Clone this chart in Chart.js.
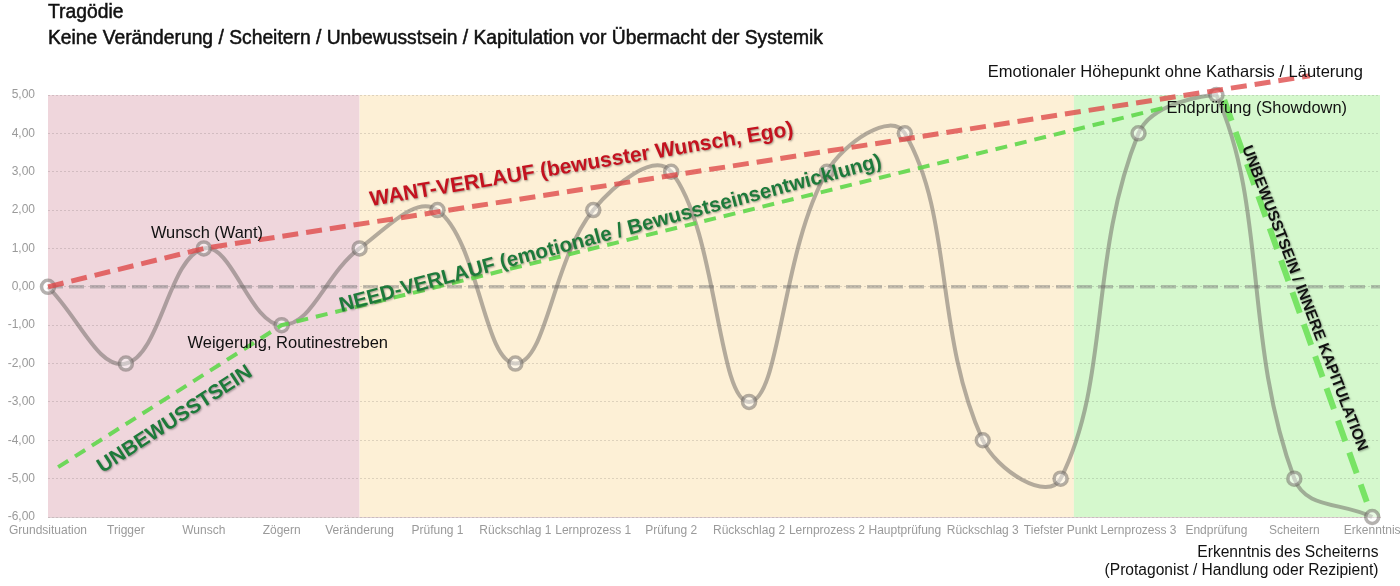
<!DOCTYPE html>
<html lang="de">
<head>
<meta charset="UTF-8">
<title>Tragödie</title>
<script src="https://cdn.jsdelivr.net/npm/chart.js"></script>
<style>
  html, body { margin: 0; padding: 0; background: #fff; }
  #wrap { width: 1400px; height: 586px; }
</style>
</head>
<body>
<div id="wrap"><canvas id="chart"></canvas></div>
<script>
// Stationen der Handlung (x-Achse)
const stationen = ['Grundsituation', 'Trigger', 'Wunsch', 'Zögern', 'Veränderung', 'Prüfung 1',
  'Rückschlag 1', 'Lernprozess 1', 'Prüfung 2', 'Rückschlag 2', 'Lernprozess 2', 'Hauptprüfung',
  'Rückschlag 3', 'Tiefster Punkt', 'Lernprozess 3', 'Endprüfung', 'Scheitern', 'Erkenntnis'];
// emotionaler Verlauf
const verlauf = [0, -2, 1, -1, 1, 2, -2, 2, 3, -3, 3, 4, -4, -5, 4, 5, -5, -6];

// Trendlinien (x = Position auf der Stationen-Achse)
const wantX = [0, 2, 16.2];
const wantY = [0, 1, 5.5];
const needX = [0.13, 3, 14.35];
const needY = [-4.7, -1, 4.68];
const kapitulationX = [15.1, 16.93];
const kapitulationY = [4.87, -5.6];
const nullX = [0, 17.1];
const nullY = [0, 0];

// Phasen (Akt-Grenzen)
const phasenGrenzen = [0, 4, 13.17, 17.1];
const phasenFarben = ['#efd6dc', '#fdf0d6', '#d5f8cd'];

const yMin = -6, yMax = 5;

const punkte = (xs, ys) => xs.map((x, i) => ({ x: x, y: ys[i] }));
const fmt = v => v.toFixed(2).replace('.', ',');

Chart.defaults.font.family = '"Liberation Sans", Arial, sans-serif';

function schreibe(ctx, text, px, py, o) {
  ctx.save();
  ctx.translate(px, py);
  if (o.rot) ctx.rotate(o.rot * Math.PI / 180);
  ctx.font = (o.bold ? 'bold ' : '') + o.size + 'px "Liberation Sans", Arial, sans-serif';
  ctx.fillStyle = o.color || '#111';
  ctx.textAlign = o.align || 'left';
  ctx.textBaseline = o.base || 'alphabetic';
  if (o.shadow) {
    ctx.shadowColor = 'rgba(0,0,0,0.35)';
    ctx.shadowBlur = 2;
    ctx.shadowOffsetX = 1;
    ctx.shadowOffsetY = 1;
  }
  ctx.fillText(text, 0, 0);
  if (o.stroke) {
    // etwas kräftiger als normal, aber nicht fett
    ctx.strokeStyle = ctx.fillStyle;
    ctx.lineWidth = o.stroke;
    ctx.strokeText(text, 0, 0);
  }
  ctx.restore();
}

const phasenPlugin = {
  id: 'phasen',
  beforeDraw(chart) {
    const { ctx, chartArea: a, scales: { x } } = chart;
    ctx.save();
    for (let i = 0; i < phasenFarben.length; i++) {
      const x0 = x.getPixelForValue(phasenGrenzen[i]);
      const x1 = x.getPixelForValue(phasenGrenzen[i + 1]);
      ctx.fillStyle = phasenFarben[i];
      ctx.fillRect(x0, a.top, x1 - x0, a.bottom - a.top);
    }
    ctx.restore();
  }
};

const textPlugin = {
  id: 'texte',
  afterDraw(chart) {
    const { ctx, chartArea: a, scales: { x, y } } = chart;
    const X = v => x.getPixelForValue(v), Y = v => y.getPixelForValue(v);

    schreibe(ctx, 'Tragödie', a.left, 18, { size: 19.3, color: '#111', stroke: 0.5 });
    schreibe(ctx, 'Keine Veränderung / Scheitern / Unbewusstsein / Kapitulation vor Übermacht der Systemik', a.left, 44, { size: 19.3, color: '#111', stroke: 0.5 });

    schreibe(ctx, 'Wunsch (Want)', X(2.04), Y(1.28), { size: 16.4, align: 'center' });
    schreibe(ctx, 'Weigerung, Routinestreben', X(1.79), Y(-1.59), { size: 16.5 });
    schreibe(ctx, 'Emotionaler Höhepunkt ohne Katharsis / Läuterung', X(16.88), Y(5.47), { size: 16.5, align: 'right' });
    schreibe(ctx, 'Endprüfung (Showdown)', X(14.36), Y(4.53), { size: 16.4 });
    schreibe(ctx, 'Erkenntnis des Scheiterns', X(17.08), Y(-7.03), { size: 15.6, align: 'right' });
    schreibe(ctx, '(Protagonist / Handlung oder Rezipient)', X(17.08), Y(-7.5), { size: 15.6, align: 'right' });

    schreibe(ctx, 'WANT-VERLAUF (bewusster Wunsch, Ego)', X(6.85), Y(3.18),
      { size: 21, bold: true, color: '#c4121f', align: 'center', base: 'middle', rot: -9.5, shadow: true });
    schreibe(ctx, 'NEED-VERLAUF (emotionale / Bewusstseinsentwicklung)', X(7.22), Y(1.38),
      { size: 20.5, bold: true, color: '#1d7a3a', align: 'center', base: 'middle', rot: -15, shadow: true });
    schreibe(ctx, 'UNBEWUSSTSEIN', X(1.63), Y(-3.46),
      { size: 20.5, bold: true, color: '#1d7a3a', align: 'center', base: 'middle', rot: -33, shadow: true });
    schreibe(ctx, 'UNBEWUSSTSEIN / INNERE KAPITULATION', X(16.13), Y(-0.3),
      { size: 15.5, bold: true, color: '#111', align: 'center', base: 'middle', rot: 69, shadow: true });
  }
};

new Chart(document.getElementById('chart'), {
  type: 'line',
  data: {
    datasets: [
      {
        label: 'Want',
        data: punkte(wantX, wantY),
        borderColor: 'rgba(222,70,70,0.78)',
        borderWidth: 5,
        borderDash: [16, 8],
        pointRadius: 0,
        tension: 0,
        clip: false
      },
      {
        label: 'Need',
        data: punkte(needX, needY),
        borderColor: 'rgba(95,215,75,0.9)',
        borderWidth: 4,
        borderDash: [12, 8],
        pointRadius: 0,
        tension: 0
      },
      {
        label: 'Kapitulation',
        data: punkte(kapitulationX, kapitulationY),
        borderColor: 'rgba(110,225,90,0.9)',
        borderWidth: 6,
        borderDash: [22, 12],
        pointRadius: 0,
        tension: 0
      },
      {
        label: 'Verlauf',
        data: verlauf.map((v, i) => ({ x: i, y: v })),
        borderColor: 'rgba(105,100,95,0.5)',
        borderWidth: 4,
        tension: 0.4,
        pointRadius: 6.5,
        pointBorderWidth: 3.5,
        pointBorderColor: 'rgba(105,100,95,0.5)',
        pointBackgroundColor: 'rgba(255,255,255,0.45)',
        clip: false
      },
      {
        label: 'Null',
        data: punkte(nullX, nullY),
        borderColor: 'rgba(120,120,120,0.45)',
        borderWidth: 3.5,
        borderDash: [15, 6],
        pointRadius: 0,
        tension: 0
      }
    ]
  },
  options: {
    responsive: true,
    maintainAspectRatio: false,
    animation: false,
    events: [],
    layout: { padding: { top: 95, right: 20, left: 0, bottom: 0 } },
    plugins: { legend: { display: false }, tooltip: { enabled: false } },
    scales: {
      x: {
        type: 'linear',
        min: 0,
        max: 17.1,
        afterBuildTicks: s => { s.ticks = stationen.map((_, i) => ({ value: i })); },
        afterFit: s => { s.height = 69; s.paddingLeft = 0; s.paddingRight = 0; },
        grid: { display: false, drawTicks: false },
        border: { color: 'rgba(160,120,130,0.35)', width: 1 },
        ticks: {
          autoSkip: false,
          maxRotation: 0,
          padding: 6,
          color: '#9a9a9a',
          font: { size: 12 },
          callback: v => stationen[Math.round(v)]
        }
      },
      y: {
        min: yMin,
        max: yMax,
        afterFit: s => { s.width = 48; },
        grid: { color: 'rgba(0,0,0,0.12)', drawTicks: false, lineWidth: 1 },
        border: { display: false, dash: [2, 2] },
        ticks: {
          stepSize: 1,
          padding: 13,
          color: '#9a9a9a',
          font: { size: 12 },
          callback: v => fmt(v)
        }
      }
    }
  },
  plugins: [phasenPlugin, textPlugin]
});
</script>
</body>
</html>
